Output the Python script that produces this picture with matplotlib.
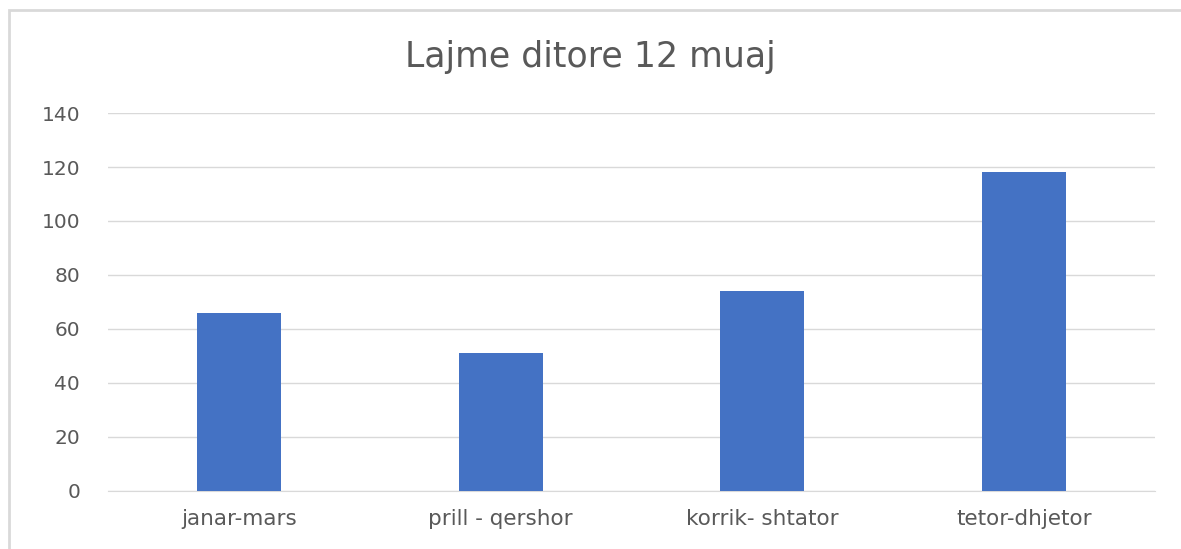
import matplotlib.pyplot as plt
from matplotlib.patches import Rectangle

# data
categories = ["janar-mars", "prill - qershor", "korrik- shtator", "tetor-dhjetor"]
values = [66, 51, 74, 118]
yticks = [0, 20, 40, 60, 80, 100, 120, 140]

plt.rcParams['font.family'] = ['DejaVu Sans']
grey = "#595959"

fig = plt.figure(figsize=(11.81, 5.49), dpi=100)
# light outer frame of the chart area
fig.patches.append(Rectangle((9 / 1181, -0.2), 1.2, 1.2 - 10 / 549,
                             transform=fig.transFigure, fill=False,
                             edgecolor="#d9d9d9", linewidth=2))
ax = fig.add_axes([108 / 1181, 1 - 491 / 549, (1155 - 108) / 1181, (491 - 113) / 549])

x = range(len(categories))
ax.bar(x, values, width=0.32, color="#4472c4", zorder=3)

ax.set_ylim(0, 140)
ax.set_xlim(-0.5, len(categories) - 0.5)
ax.set_yticks(yticks)
ax.set_xticks(list(x))
ax.set_xticklabels(categories)
ax.grid(axis="y", color="#d9d9d9", linewidth=1, zorder=0)
for s in ax.spines.values():
    s.set_visible(False)
ax.spines["bottom"].set_visible(True)
ax.spines["bottom"].set_color("#d9d9d9")
ax.tick_params(length=0, colors=grey)
ax.tick_params(axis="y", pad=20, labelsize=14.5)
ax.tick_params(axis="x", pad=13, labelsize=15.5)

fig.text(0.5, 1 - 57 / 549, "Lajme ditore 12 muaj", ha="center", va="center",
         fontsize=25, color=grey)

fig.savefig("out.png", dpi=100)
